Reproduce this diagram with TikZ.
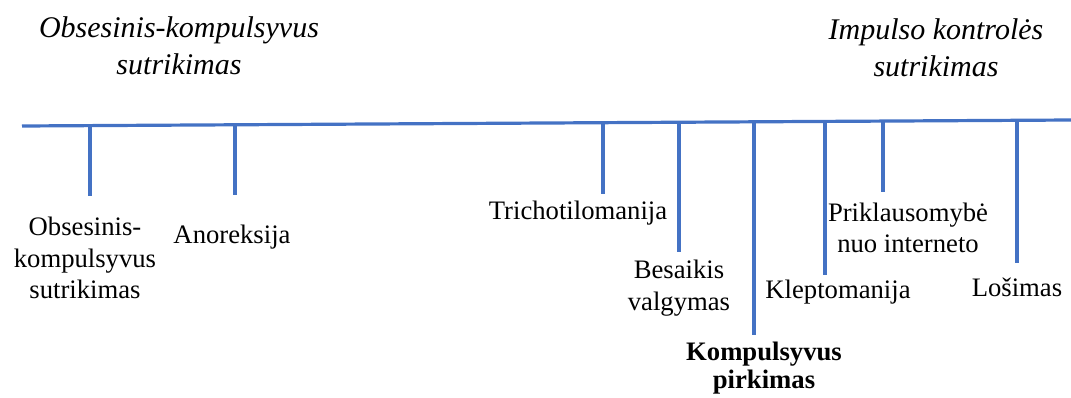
\documentclass[tikz,border=0pt]{standalone}
\usepackage{fontspec}
\setmainfont{Liberation Serif}
\begin{document}
\begin{tikzpicture}[x=0.75pt,y=-0.75pt,
  axis/.style={draw=axisblue,line width=2.4pt},
  tick/.style={draw=axisblue,line width=2.4pt},
  lbl/.style={inner sep=0pt,align=center,font=\fontsize{20}{23.5}\selectfont},
  ttl/.style={inner sep=0pt,align=center,font=\fontsize{22.5}{27.5}\selectfont\itshape}]
\definecolor{axisblue}{HTML}{4472C4}
\useasboundingbox (0,0) rectangle (1071,397);

% main axis
\coordinate (L) at (22,126);
\coordinate (R) at (1071,120);
\draw[axis] (L) -- (R);

% headings
\node[ttl] (h1) at (179,46) {Obsesinis-kompulsyvus\\sutrikimas};
\node[ttl] (h2) at (936,48) {Impulso kontrolės\\sutrikimas};

% tick marks: top on the axis, bottom end
\foreach \n/\x/\yt/\yb in {a/90/125.6/196, b/235/124.8/195, c/603/122.7/194,
    d/679/122.2/252, e/754/121.8/335, f/825/121.4/275, g/883/121.1/192, h/1017/120.3/263}{
  \coordinate (t\n) at (\x,\yt);
  \coordinate (b\n) at (\x,\yb);
  \draw[tick] (t\n) -- (b\n);
}

% labels
\node[lbl] (la) at (85,258) {Obsesinis-\\kompulsyvus\\sutrikimas};
\node[lbl] (lb) at (232,237) {Anoreksija};
\node[lbl] (lc) at (578,213) {Trichotilomanija};
\node[lbl] (ld) at (679,288) {Besaikis\\valgymas};
\node[lbl,font=\fontsize{20}{21}\selectfont\bfseries] (le) at (764,368) {Kompulsyvus\\pirkimas};
\node[lbl] (lf) at (838,292) {Kleptomanija};
\node[lbl] (lg) at (908,228) {Priklausomybė\\nuo interneto};
\node[lbl] (lh) at (1017,287) {Lošimas};
\end{tikzpicture}
\end{document}
